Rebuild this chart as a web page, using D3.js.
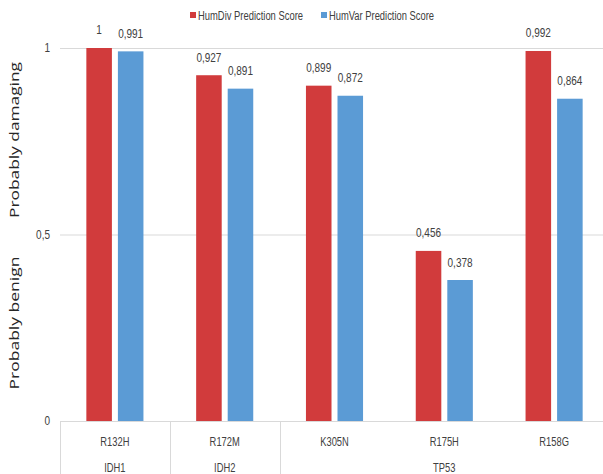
<!DOCTYPE html>
<html>
<head>
<meta charset="utf-8">
<script src="https://cdn.jsdelivr.net/npm/d3@7"></script>
<style>
  html, body { margin: 0; padding: 0; background: #fff; }
  svg { display: block; }
  text { font-family: "Liberation Sans", Arial, sans-serif; fill: #404040; }
</style>
</head>
<body>
<svg id="chart" width="603" height="474"></svg>
<script>
// Mutations and their genes
const mutations = ["R132H", "R172M", "K305N", "R175H", "R158G"];
const genes = ["IDH1", "IDH2", "TP53"];
const geneSpans = [1, 1, 3];          // how many mutations each gene covers
const seriesNames = ["HumDiv Prediction Score", "HumVar Prediction Score"];
const humDiv = [1, 0.927, 0.899, 0.456, 0.992];
const humVar = [0.991, 0.891, 0.872, 0.378, 0.864];
const yTicks = [0, 0.5, 1];
const zoneLabels = ["Probably damaging", "Probably benign"];

const colors = ["#d13b3c", "#5b9bd5"];
const gridColor = "#d9d9d9";

const svg = d3.select("#chart");
const W = 603, H = 474;
const plot = { left: 60, right: 609, top: 48, bottom: 421 };
const NARROW = 0.8;   // horizontal squeeze for a condensed look

const commaLocale = d3.formatLocale({ decimal: ",", thousands: ".", grouping: [3], currency: ["", ""] });
const fmtValue = commaLocale.format(".3~f");
const fmtTick = commaLocale.format(".1~f");

// Squeeze a text selection horizontally around its own anchor point
function squeeze(sel, k = NARROW) {
  sel.attr("transform", function () {
    const tx = +this.getAttribute("x"), ty = +this.getAttribute("y");
    return `translate(${tx},${ty}) scale(${k},1) translate(${-tx},${-ty})`;
  });
}

const x = d3.scaleBand().domain(mutations).range([plot.left, plot.right]).paddingInner(0).paddingOuter(0);
const xSeries = d3.scaleBand().domain([0, 1])
  .range([x.bandwidth() * 0.24, x.bandwidth() * 0.76])
  .paddingInner(0.19).paddingOuter(0);
const y = d3.scaleLinear().domain([0, 1]).range([plot.bottom, plot.top]);

// Horizontal gridlines
svg.append("g").selectAll("line").data(yTicks.filter(t => t > 0)).join("line")
  .attr("x1", plot.left).attr("x2", W)
  .attr("y1", d => y(d) + 0.5).attr("y2", d => y(d) + 0.5)
  .attr("stroke", gridColor).attr("stroke-width", 1);

// Y tick labels
svg.append("g").selectAll("text").data(yTicks).join("text")
  .attr("x", 50).attr("y", d => y(d) + 4.5)
  .attr("text-anchor", "end").attr("font-size", 12.5)
  .text(d => fmtTick(d))
  .call(squeeze);

// Bars
const rows = mutations.map((m, i) => ({ m, vals: [humDiv[i], humVar[i]] }));
const groups = svg.append("g").selectAll("g").data(rows).join("g")
  .attr("transform", d => `translate(${x(d.m)},0)`);
groups.selectAll("rect").data(d => d.vals.map((v, s) => ({ v, s }))).join("rect")
  .attr("x", d => xSeries(d.s)).attr("width", xSeries.bandwidth())
  .attr("y", d => y(d.v)).attr("height", d => y(0) - y(d.v))
  .attr("fill", d => colors[d.s]);

// Value labels
groups.selectAll("text").data(d => d.vals.map((v, s) => ({ v, s }))).join("text")
  .attr("x", d => xSeries(d.s) + xSeries.bandwidth() / 2)
  .attr("y", d => y(d.v) - 13.5)
  .attr("text-anchor", "middle").attr("font-size", 12.5)
  .text(d => fmtValue(d.v))
  .call(squeeze);

// Category axis baseline
svg.append("line")
  .attr("x1", plot.left).attr("x2", W)
  .attr("y1", plot.bottom + 0.5).attr("y2", plot.bottom + 0.5)
  .attr("stroke", gridColor);

// Mutation labels
svg.append("g").selectAll("text").data(mutations).join("text")
  .attr("x", d => x(d) + x.bandwidth() / 2).attr("y", 446)
  .attr("text-anchor", "middle").attr("font-size", 12)
  .text(d => d)
  .call(squeeze, 0.78);

// Gene labels and separators
let start = 0;
const geneRows = genes.map((g, i) => {
  const r = { g, from: start, to: start + geneSpans[i] };
  start += geneSpans[i];
  return r;
});
svg.append("g").selectAll("line").data(geneRows).join("line")
  .attr("x1", d => Math.round(x(mutations[d.from])) + 0.5)
  .attr("x2", d => Math.round(x(mutations[d.from])) + 0.5)
  .attr("y1", plot.bottom).attr("y2", H)
  .attr("stroke", gridColor);
svg.append("g").selectAll("text").data(geneRows).join("text")
  .attr("x", d => (x(mutations[d.from]) + x(mutations[d.to - 1]) + x.bandwidth()) / 2)
  .attr("y", 472)
  .attr("text-anchor", "middle").attr("font-size", 12)
  .text(d => d.g)
  .call(squeeze, 0.78);

// Zone titles on the value axis
const zoneCenters = [140, 323];
const zoneLengths = [156, 133];
svg.append("g").selectAll("text").data(zoneLabels).join("text")
  .attr("transform", (d, i) => `translate(19,${zoneCenters[i]}) rotate(-90)`)
  .attr("text-anchor", "middle")
  .style("font-family", "'Open Sans', 'DejaVu Sans', sans-serif")
  .style("fill", "#262626")
  .attr("font-size", 13.5)
  .attr("textLength", (d, i) => zoneLengths[i])
  .attr("lengthAdjust", "spacingAndGlyphs")
  .text(d => d);

// Legend
const legend = svg.append("g").selectAll("g").data(seriesNames).join("g")
  .attr("transform", (d, i) => `translate(${[190, 321][i]},0)`);
legend.append("rect").attr("x", 0).attr("y", 12).attr("width", 6).attr("height", 6)
  .attr("fill", (d, i) => colors[i]);
legend.append("text").attr("x", 8).attr("y", 19.5).attr("font-size", 12)
  .attr("textLength", 105).attr("lengthAdjust", "spacingAndGlyphs")
  .text(d => d);
</script>
</body>
</html>
